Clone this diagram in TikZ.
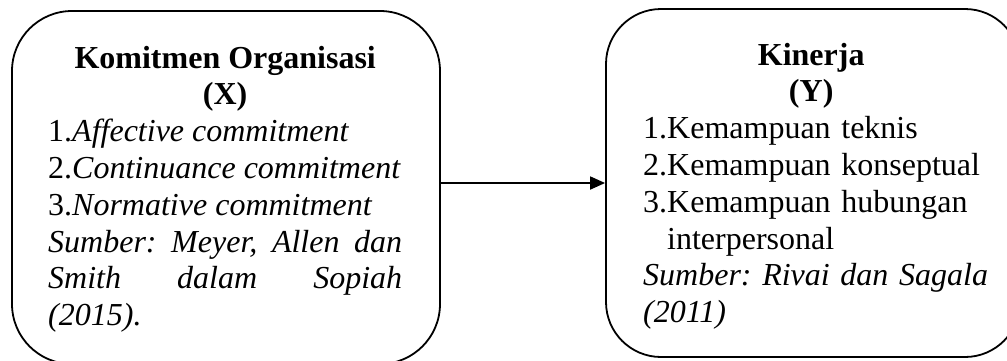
\documentclass[tikz,border=0pt]{standalone}
\usepackage{fontspec}
\setmainfont{Liberation Serif}
\usetikzlibrary{arrows.meta}
\newcommand{\nohyph}{\hyphenpenalty=10000\relax\exhyphenpenalty=10000\relax}
\tikzset{
  framebox/.style={draw, line width=1.8pt, rounded corners=#1, inner sep=0pt},
  bodytext/.style={inner sep=0pt, anchor=base west, font=\fontsize{32}{36.8}\selectfont\frenchspacing\nohyph},
  link/.style={line width=1.8pt, -{Triangle[length=15pt,width=13pt]}}
}
\begin{document}
\begin{tikzpicture}[x=1pt,y=-1pt]
\useasboundingbox (0,0) rectangle (1007,360);
\clip (0,0) rectangle (1007,360);
% boxes
\node[framebox=60pt, minimum width=428pt, minimum height=353pt] (L) at (226,187.5) {};
\node[framebox=55pt, minimum width=414pt, minimum height=348pt] (R) at (813,183) {};
% texts
\node[bodytext, text width=354pt, align=justify] (Ltext) at (48,68) {%
{\centering\bfseries Komitmen Organisasi\\(X)\par}
\mbox{1.\textit{Affective commitment}}\par
\mbox{2.\textit{Continuance commitment}}\par
\mbox{3.\textit{Normative commitment}}\par
\textit{Sumber: Meyer, Allen dan\linebreak Smith dalam Sopiah\linebreak (2015).}\par};
\node[bodytext, text width=336pt, align=left] (Rtext) at (643,65) {%
{\centering\bfseries Kinerja\\(Y)\par}
\mbox{1.Kemampuan teknis}\par
\mbox{2.Kemampuan konseptual}\par
\mbox{3.Kemampuan hubungan}\par
\mbox{\hspace*{24pt}interpersonal}\par
\mbox{\textit{Sumber: Rivai dan Sagala}}\par
\mbox{\textit{(2011)}}\par};
% arrow
\coordinate (a) at (0,183);
\draw[link] (L.east |- a) -- (R.west |- a);
\end{tikzpicture}
\end{document}
